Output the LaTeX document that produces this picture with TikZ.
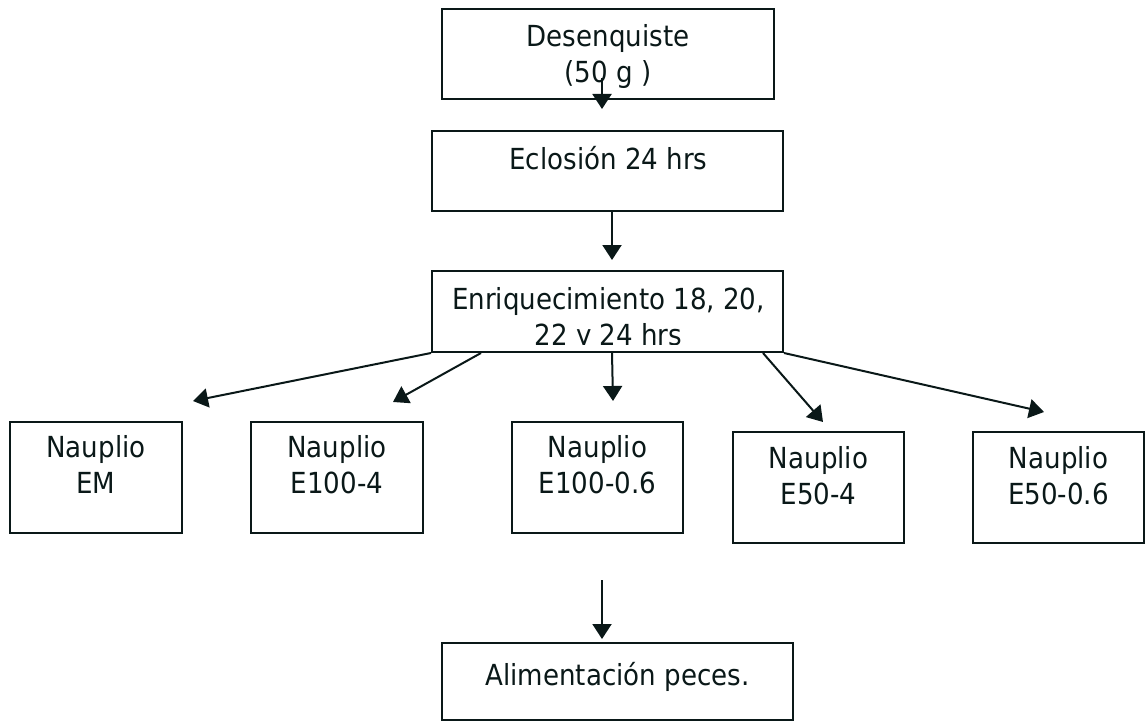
\documentclass[tikz,border=0pt]{standalone}
\usepackage{fontspec}
\setmainfont{DejaVu Sans Condensed}
\usepackage{tikz}
\usetikzlibrary{arrows.meta,positioning}
\definecolor{ink}{HTML}{0A1818}
\tikzset{
  box/.style={draw=ink, line width=2pt, inner sep=0pt},
  lbl/.style={text=ink, align=center, inner sep=0pt, font=\fontsize{29}{36}\selectfont},
  arr/.style={draw=ink, line width=2pt, -{Triangle[length=15pt,width=19pt]}}
}

\begin{document}
\begin{tikzpicture}[x=1pt, y=-1pt]
  \useasboundingbox (0,0) rectangle (1145,722);
  % Process boxes
  \node[box, minimum width=332pt, minimum height=90pt] (des) at (608,54) {};
  \node[box, minimum width=351pt, minimum height=80pt] (ecl) at (607.5,171) {};
  \node[box, minimum width=351pt, minimum height=81pt] (enr) at (607.5,311.5) {};
  \node[box, minimum width=351pt, minimum height=77pt] (alim) at (617.5,681.5) {};
  % Nauplio boxes
  \node[box, minimum width=172pt, minimum height=111pt] (em) at (96,477.5) {};
  \node[box, minimum width=172pt, minimum height=111pt] (e1004) at (337,477.5) {};
  \node[box, minimum width=171pt, minimum height=111pt] (e10006) at (597.5,477.5) {};
  \node[box, minimum width=171pt, minimum height=111pt] (e504) at (818.5,487.5) {};
  \node[box, minimum width=171pt, minimum height=111pt] (e5006) at (1058.5,487.5) {};
  % Texts
  \node[lbl] (desT) at (608,57) {Desenquiste\\(50 g )};
  \node[lbl, anchor=base] (eclT) at (608.5,170) {Eclosión 24 hrs};
  \begin{scope}
    \clip (enr.north west) rectangle (783,344);
    \node[lbl] (enrT) at (608.5,319.5) {Enriquecimiento 18, 20,\\22 y 24 hrs};
  \end{scope}
  \node[lbl, anchor=base] (alimT) at (617.5,685) {Alimentación peces.};
  \node[lbl] (emT) at ([yshift=-43.5pt]em.north) {Nauplio\\EM};
  \node[lbl] (e1004T) at ([yshift=-43.5pt]e1004.north) {Nauplio\\E100-4};
  \node[lbl] (e10006T) at ([yshift=-43.5pt]e10006.north) {Nauplio\\E100-0.6};
  \node[lbl] (e504T) at ([yshift=-44.5pt]e504.north) {Nauplio\\E50-4};
  \node[lbl] (e5006T) at ([yshift=-44.5pt]e5006.north) {Nauplio\\E50-0.6};
  % Free arrow ends
  \coordinate (tEM) at (193,401);
  \coordinate (t1004) at (393,402);
  \coordinate (t10006) at (613,401);
  \coordinate (t504) at (823,422);
  \coordinate (t5006) at (1044,412);
  \coordinate (alimIn) at (602,580);
  % Arrows
  \draw[arr] ([xshift=-6pt,yshift=22pt]des.south) -- ([xshift=-5.5pt,yshift=21pt]ecl.north);
  \draw[arr] ([xshift=4.5pt]ecl.south) -- ([xshift=4.5pt,yshift=10pt]enr.north);
  \draw[arr] (enr.south west) -- (tEM);
  \draw[arr] ([xshift=50pt]enr.south west) -- (t1004);
  \draw[arr] ([xshift=4.5pt]enr.south) -- (t10006);
  \draw[arr] ([xshift=-21pt]enr.south east) -- (t504);
  \draw[arr] (enr.south east) -- (t5006);
  \draw[arr] (alimIn) -- ([xshift=-15.5pt,yshift=3pt]alim.north);
\end{tikzpicture}
\end{document}
